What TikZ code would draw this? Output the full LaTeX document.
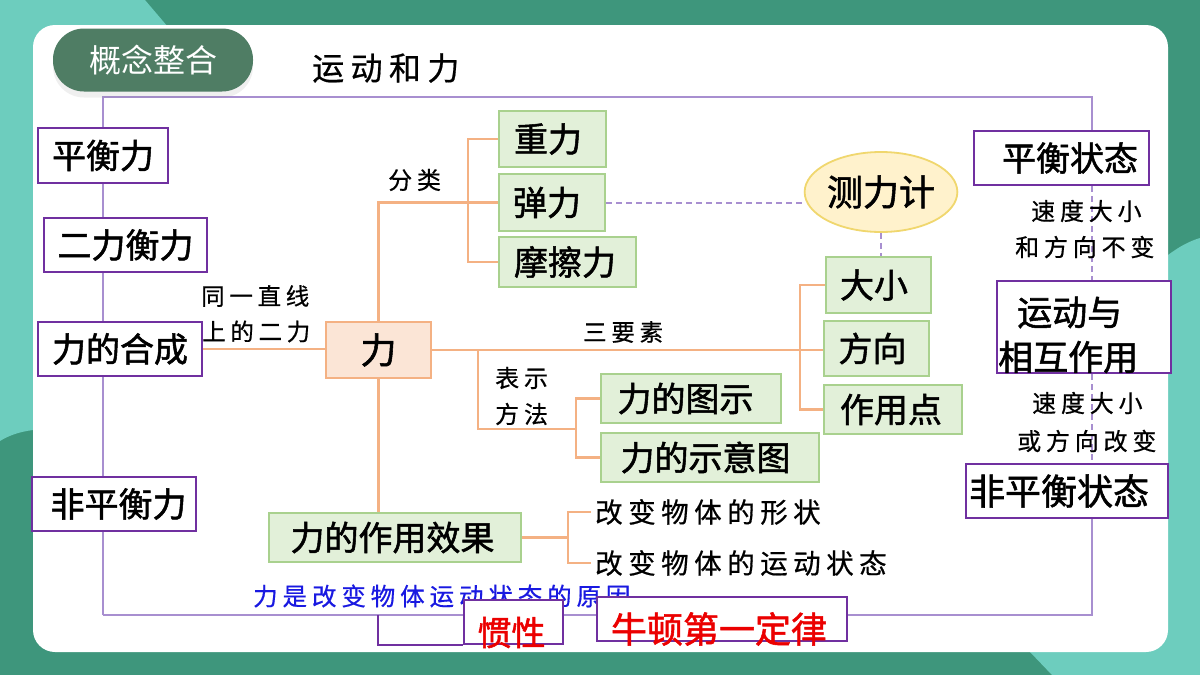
\documentclass[tikz,border=0pt]{standalone}
\usepackage{fontspec}
\newfontfamily\hei[FakeBold=1.5]{Noto Sans CJK SC}
\newfontfamily\heil{Noto Sans CJK SC}
\newfontfamily\kai[LetterSpace=20,FakeBold=0.6]{Noto Sans CJK SC}
\usetikzlibrary{shapes.geometric,shadows}
\pgfdeclarelayer{back}
\pgfdeclarelayer{lines}
\pgfsetlayers{back,lines,main}
\definecolor{dkg}{RGB}{62,150,124}
\definecolor{ltg}{RGB}{109,205,190}
\definecolor{pillc}{RGB}{79,125,100}
\definecolor{pbd}{RGB}{112,48,160}
\definecolor{pln}{RGB}{168,143,208}
\definecolor{gfill}{RGB}{226,240,217}
\definecolor{gbd}{RGB}{169,209,142}
\definecolor{ofill}{RGB}{251,229,214}
\definecolor{obd}{RGB}{244,177,131}
\definecolor{yfill}{RGB}{255,242,204}
\definecolor{ybd}{RGB}{240,215,110}
\definecolor{blu}{RGB}{25,25,225}
\definecolor{rd}{RGB}{235,0,0}
\tikzset{
  box/.style={inner sep=0pt, font=\hei\fontsize{34}{40}\selectfont, line width=2.2pt},
  pbox/.style={box, draw=pbd, fill=white},
  gbox/.style={box, draw=gbd, fill=gfill},
  obox/.style={box, draw=obd, fill=ofill},
  redtxt/.style={inner sep=0pt, text=rd, font=\hei\fontsize{35}{40}\selectfont},
  lab/.style={inner sep=0pt, anchor=west, font=\kai\fontsize{24}{30}\selectfont},
  oline/.style={draw=obd, line width=2.2pt},
  pline/.style={draw=pln, line width=2pt},
  dline/.style={draw=pln, line width=2pt, dash pattern=on 6pt off 4pt},
  bline/.style={draw=pbd, line width=2pt},
}
\begin{document}
\begin{tikzpicture}[x=1pt,y=-1pt]
\useasboundingbox (0,0) rectangle (1200,675);
\begin{pgfonlayer}{back}
\fill[dkg] (0,0) rectangle (1200,675);
\fill[ltg] (0,0) -- (145,0) -- (168,27) -- (60,27) -- (60,425) -- (33,430) .. controls (18,432) and (8,436) .. (0,441) -- cycle;
\fill[ltg] (1140,260) -- (1168,255) .. controls (1180,246) and (1190,241) .. (1200,238) -- (1200,675) -- (1052,675) -- (1030,652) -- (1140,652) -- cycle;
\fill[white, rounded corners=22pt] (33,25) rectangle (1168,652);
\end{pgfonlayer}

% title pill
\node[fill=pillc, rounded corners=31pt, minimum width=200pt, minimum height=63pt, inner sep=0pt,
  text=white, font=\heil\fontsize{32}{36}\selectfont,
  drop shadow={opacity=0.12, shadow xshift=0pt, shadow yshift=-6pt}] (title) at (153,60) {概念整合};
\node[lab, font=\kai\fontsize{32}{36}\selectfont] (topic) at (312,68) {运动和力};

% left purple boxes
\node[pbox, minimum width=130pt, minimum height=55pt] (phl) at (103,155.5) {平衡力};
\node[pbox, minimum width=163pt, minimum height=54pt] (elhl) at (125.5,245) {二力衡力};
\node[pbox, minimum width=164pt, minimum height=54pt] (hc) at (120,349) {力的合成};
\node[pbox, minimum width=164pt, minimum height=54pt] (fphl) at (114,504) {\hspace*{9pt}非平衡力};

% center
\node[obox, minimum width=105pt, minimum height=56pt, font=\hei\fontsize{36}{40}\selectfont] (li) at (378.5,350) {力};
\node[gbox, minimum width=107pt, minimum height=56pt] (zl) at (552.5,139) {重力\hspace*{9pt}};
\node[gbox, minimum width=106pt, minimum height=57pt] (tl) at (552,202.5) {弹力\hspace*{10pt}};
\node[gbox, minimum width=137pt, minimum height=50pt] (mcl) at (567.5,262) {摩擦力\hspace*{5pt}};
\node[gbox, minimum width=105pt, minimum height=56pt] (dx) at (878.5,285) {大小\hspace*{9pt}};
\node[gbox, minimum width=105pt, minimum height=55pt] (fx) at (876.5,348.5) {方向\hspace*{8pt}};
\node[gbox, minimum width=138pt, minimum height=49pt] (zyd) at (893,409.5) {作用点\hspace*{4pt}};
\node[gbox, minimum width=180pt, minimum height=49pt] (ts) at (691,398.5) {力的图示\hspace*{11pt}};
\node[gbox, minimum width=218pt, minimum height=49pt] (sy) at (710,457.5) {力的示意图\hspace*{9pt}};
\node[gbox, minimum width=252pt, minimum height=49pt] (xg) at (395,537.5) {力的作用效果\hspace*{5pt}};
\node[ellipse, fill=yfill, draw=ybd, line width=1.8pt, minimum width=146pt, minimum height=80pt, inner sep=0pt,
  font=\hei\fontsize{36}{40}\selectfont] (clj) at (881,192) {测力计};

% right purple boxes
\node[pbox, minimum width=175pt, minimum height=54pt] (pzt) at (1061.5,158) {\hspace*{17pt}平衡状态};
\node[pbox, minimum width=174pt, minimum height=92pt] (yd) at (1084,327) {};
\node[inner sep=0pt, anchor=west, font=\hei\fontsize{35}{40}\selectfont] (yd1) at (1017,312.5) {运动与};
\node[inner sep=0pt, anchor=west, font=\hei\fontsize{35}{40}\selectfont] (yd2) at (998,357) {相互作用};
\node[pbox, minimum width=202pt, minimum height=54pt, font=\hei\fontsize{36}{40}\selectfont] (fpzt) at (1067,491) {非平衡状态\hspace*{16pt}};

% labels
\node[lab] (fenlei) at (388,180) {分类};
\node[lab, font=\kai\fontsize{23.5}{30}\selectfont] (tz1) at (201,296) {同一直线};
\node[lab, font=\kai\fontsize{23.5}{30}\selectfont] (tz2) at (202,331.5) {上的二力};
\node[lab, font=\kai\fontsize{23.5}{30}\selectfont] (sys) at (583,332) {三要素};
\node[lab] (bs1) at (495,378) {表示};
\node[lab] (bs2) at (495,414) {方法};
\node[lab] (sd1) at (1031,211) {速度大小};
\node[lab] (hd) at (1015,247) {和方向不变};
\node[lab] (sd2) at (1032,403) {速度大小};
\node[lab] (hf) at (1017,441) {或方向改变};
\node[lab, font=\kai\fontsize{27.5}{32}\selectfont] (g1) at (595,512) {改变物体的形状};
\node[lab, font=\kai\fontsize{27.5}{32}\selectfont] (g2) at (595,563) {改变物体的运动状态};
\node[lab, text=blu, font=\kai\fontsize{24.5}{30}\selectfont] (yy) at (253,596) {力是改变物体运动状态的原因};

% bottom boxes
\node[pbox, minimum width=99pt, minimum height=44pt] (gx) at (513.5,622) {};
\node[redtxt, font=\hei\fontsize{34}{40}\selectfont] (gxt) at (511.5,632.5) {惯性};
\node[pbox, minimum width=250pt, minimum height=44pt] (nd) at (722,619) {};
\node[redtxt, font=\hei\fontsize{36}{40}\selectfont] (ndt) at (719,629) {牛顿第一定律};

\begin{pgfonlayer}{lines}
\coordinate (ftl) at (103,97);
\coordinate (ftr) at (1092,97);
\coordinate (fbl) at (103,615);
\coordinate (fbr) at (1092,615);
\draw[pline] (fbl) -- (ftl) -- (ftr) -- (ftr |- pzt.north);
\draw[dline] (ftr |- pzt.south) -- (ftr |- yd.north);
\draw[dline] (ftr |- yd.south) -- (ftr |- fpzt.north);
\draw[pline] (ftr |- fpzt.south) -- (fbr) -- (fbl);
\coordinate (brk) at (378,615);
\draw[bline] (brk) |- (gx.south west);

\draw[oline] (hc.east) -- (hc.east -| li.west);
\coordinate (f1) at (468,202);
\draw[oline] (li.north) |- (tl.west);
\draw[oline] (zl.west) -| (f1) |- (mcl.west);
\coordinate (f2) at (800,350);
\draw[oline] (li.east) -- (li.east -| fx.west);
\draw[oline] (dx.west) -| (f2) |- (zyd.west);
\coordinate (f3) at (478,350);
\coordinate (f4) at (576,429);
\draw[oline] (f3) |- (f4);
\draw[oline] (ts.west) -| (f4) |- (sy.west);
\draw[oline] (li.south) -- (li.south |- xg.north);
\coordinate (f5) at (568,537.5);
\draw[oline] (xg.east) -- (f5);
\draw[oline] ([xshift=-4pt]g1.west) -| (f5) |- ([xshift=-4pt]g2.west);

\draw[dline] (tl.east) -- (tl.east -| clj.west);
\draw[dline] (clj.south) -- (clj.south |- dx.north);
\end{pgfonlayer}
\end{tikzpicture}
\end{document}
